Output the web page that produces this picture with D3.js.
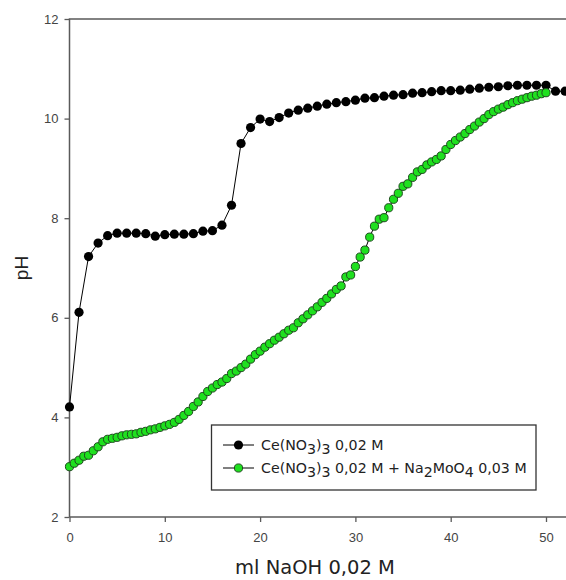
<!DOCTYPE html>
<html><head><meta charset="utf-8">
<script src="https://cdn.jsdelivr.net/npm/d3@7"></script>
<style>body{margin:0;background:#fff}svg{display:block}</style>
</head><body>
<svg id="c" width="566" height="580"></svg>
<script>
const blackX = d3.range(0, 53, 1);
const blackY = [4.21,6.11,7.23,7.50,7.65,7.70,7.70,7.70,7.69,7.64,7.67,7.68,7.68,7.69,7.74,7.75,7.86,8.26,9.50,9.82,
  9.99,9.94,10.02,10.11,10.17,10.21,10.25,10.29,10.32,10.34,10.37,10.41,10.42,10.45,10.47,10.48,10.51,10.52,10.54,10.56,
  10.56,10.57,10.59,10.61,10.63,10.64,10.66,10.67,10.67,10.67,10.67,10.55,10.55];
const greenX = d3.range(0, 50.25, 0.5);
const greenY = [3.01,3.08,3.14,3.22,3.24,3.33,3.41,3.51,3.56,3.58,3.60,3.63,3.65,3.66,3.67,3.70,3.72,3.75,3.77,3.80,
  3.83,3.86,3.90,3.96,4.04,4.12,4.22,4.31,4.42,4.52,4.59,4.66,4.71,4.78,4.88,4.93,5.00,5.07,5.17,5.26,
  5.33,5.41,5.48,5.55,5.61,5.68,5.75,5.80,5.90,5.98,6.06,6.14,6.22,6.31,6.39,6.48,6.57,6.64,6.82,6.86,
  7.03,7.22,7.36,7.62,7.84,7.98,8.01,8.21,8.38,8.50,8.64,8.69,8.82,8.93,8.98,9.07,9.13,9.18,9.25,9.38,
  9.48,9.56,9.63,9.70,9.78,9.85,9.93,10.00,10.08,10.14,10.19,10.23,10.28,10.32,10.36,10.39,10.42,10.45,10.47,10.50,10.52];
const xTicks = [0,10,20,30,40,50];
const yTicks = [2,4,6,8,10,12];
const seriesNames = ["Ce(NO3)3 0,02 M", "Ce(NO3)3 0,02 M + Na2MoO4 0,03 M"];

const svg = d3.select("#c");
const x = d3.scaleLinear().domain([0,50]).range([69.5,546]);
const y = d3.scaleLinear().domain([2,12]).range([517,19]);
const axisColor = "#5a5a5a";

svg.append("path").attr("d", `M${x(0)},${y(2)}V${y(12)}H${x(53)}`).attr("fill","none").attr("stroke",axisColor).attr("stroke-width",1.5);
svg.append("path").attr("d", `M${x(0)},${y(2)}H${x(53)}`).attr("fill","none").attr("stroke",axisColor).attr("stroke-width",1.5);

const gx = svg.append("g").attr("transform",`translate(0,${y(2)})`)
  .call(d3.axisBottom(x).tickValues(xTicks).tickSize(5).tickPadding(11).tickFormat(d3.format("d")));
const gy = svg.append("g").attr("transform",`translate(${x(0)},0)`)
  .call(d3.axisLeft(y).tickValues(yTicks).tickSize(5).tickPadding(6).tickFormat(d3.format("d")));
[gx,gy].forEach(g=>{
  g.select(".domain").remove();
  g.selectAll(".tick line").attr("stroke",axisColor).attr("stroke-width",1.3);
  g.selectAll(".tick text").attr("fill","#444").style("font-family","'Liberation Sans', Arial, sans-serif").style("font-size","13px");
});

svg.append("text").attr("x",315).attr("y",574).attr("text-anchor","middle")
  .style("font-family","'DejaVu Sans', Verdana, sans-serif").style("font-size","19.5px").attr("fill","#222")
  .text("ml NaOH 0,02 M");
svg.append("text").attr("transform","translate(27.5,268) rotate(-90)").attr("text-anchor","middle")
  .style("font-family","'Liberation Sans', Arial, sans-serif").style("font-size","19px").attr("fill","#222")
  .text("pH");

const line = d3.line().x(d=>x(d[0])).y(d=>y(d[1]));
const black = blackX.map((v,i)=>[v,blackY[i]]);
const green = greenX.map((v,i)=>[v,greenY[i]]);

svg.append("path").datum(black).attr("d",line).attr("fill","none").attr("stroke","#000").attr("stroke-width",1);
svg.append("g").selectAll("circle").data(black).join("circle")
  .attr("cx",d=>x(d[0])).attr("cy",d=>y(d[1])).attr("r",4.6).attr("fill","#000");

svg.append("path").datum(green).attr("d",line).attr("fill","none").attr("stroke","#000").attr("stroke-width",1);
svg.append("g").selectAll("circle").data(green).join("circle")
  .attr("cx",d=>x(d[0])).attr("cy",d=>y(d[1])).attr("r",4.1).attr("fill","#1fe01f").attr("stroke","#1e4a1e").attr("stroke-width",1);

// legend
const lg = svg.append("g");
lg.append("rect").attr("x",211.5).attr("y",425).attr("width",324.5).attr("height",65)
  .attr("fill","#fff").attr("stroke","#333").attr("stroke-width",1.3);
const rows = [{y:445, fill:"#000", stroke:"none", r:4.6},{y:468, fill:"#1fe01f", stroke:"#1e4a1e", r:4.1}];
const legendParts = [
  [["Ce(NO",0],["3",1],[")",0],["3",1],[" 0,02 M",0]],
  [["Ce(NO",0],["3",1],[")",0],["3",1],[" 0,02 M + Na",0],["2",1],["MoO",0],["4",1],[" 0,03 M",0]]
];
rows.forEach((r,i)=>{
  lg.append("line").attr("x1",223).attr("x2",254).attr("y1",r.y).attr("y2",r.y).attr("stroke","#000").attr("stroke-width",1);
  lg.append("circle").attr("cx",238.5).attr("cy",r.y).attr("r",r.r).attr("fill",r.fill).attr("stroke",r.stroke);
  const t = lg.append("text").attr("x",261).attr("y",r.y+4.5)
    .style("font-family","'DejaVu Sans', Verdana, sans-serif").style("font-size","14.2px").attr("fill","#222");
  const parts = legendParts[i];
  parts.forEach((p,j)=>{
    const prevSub = j>0 ? parts[j-1][1] : 0;
    t.append("tspan").text(p[0]).attr("dy", p[1] && !prevSub ? 4 : (!p[1] && prevSub ? -4 : 0));
  });
});
</script>
</body></html>
